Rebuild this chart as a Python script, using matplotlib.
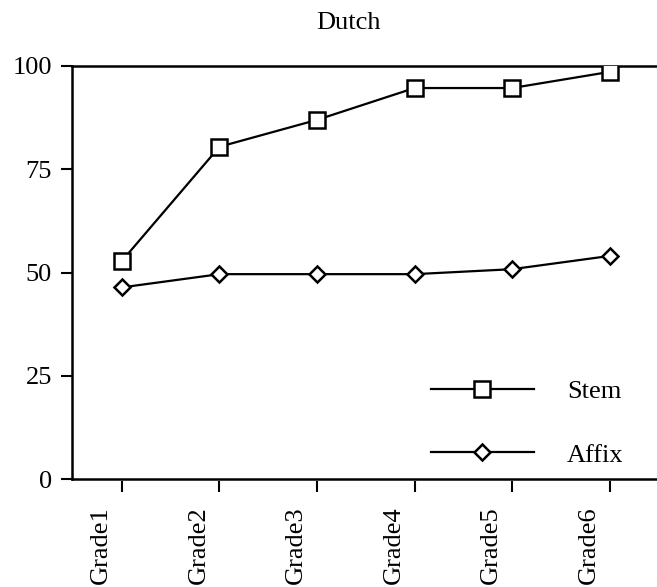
import matplotlib
matplotlib.use('Agg')
import matplotlib.pyplot as plt
import matplotlib.transforms as mtransforms
import numpy as np

grades = ['Grade1', 'Grade2', 'Grade3', 'Grade4', 'Grade5', 'Grade6']
stem = [52.8, 80.4, 86.9, 94.6, 94.6, 98.5]
affix = [46.4, 49.6, 49.6, 49.6, 50.8, 54.0]
yticks = [0, 25, 50, 75, 100]

plt.rcParams['font.family'] = ['Liberation Serif', 'DejaVu Serif']
plt.rcParams['font.size'] = 19

W, H = 657, 587
fig = plt.figure(figsize=(W / 100, H / 100), dpi=100)

# axes box in pixels: left 71.5, right 657, top 65.7, bottom 479.3
ax = fig.add_axes([71.5 / W, 1 - 479.3 / H, (W - 71.5) / W, (479.3 - 65.7) / H])

x = np.arange(len(grades))
ax.plot(x, stem, color='black', lw=1.6, marker='s', ms=11.5,
        mfc='white', mec='black', mew=1.8, label='Stem', zorder=3)
ax.plot(x, affix, color='black', lw=1.6, marker='D', ms=8.5,
        mfc='white', mec='black', mew=1.8, label='Affix', zorder=3)

ax.set_xlim(-0.517, 5.486)
ax.set_ylim(0, 100)

# frame: left spine + lines at 0 and 100, no right spine
for s in ['top', 'right']:
    ax.spines[s].set_visible(False)
ax.spines['left'].set_linewidth(1.8)
ax.spines['bottom'].set_visible(False)
ax.spines['bottom'].set_position(('outward', 1.5))
ax.axhline(0, color='black', lw=1.8, clip_on=False, zorder=2)
ax.axhline(100, color='black', lw=1.8, clip_on=False, zorder=2)

ax.set_yticks(yticks)
ax.set_xticks(x)
ax.set_xticklabels(grades, rotation=90, va='top', ha='center')
ax.tick_params(axis='y', direction='out', length=8, width=1.5, pad=6)
ax.tick_params(axis='x', direction='out', length=8, width=1.5, pad=10)

# shift rotated labels left like the reference
offset = mtransforms.ScaledTranslation(-15 / 72, 0, fig.dpi_scale_trans)
for lab in ax.get_xticklabels():
    lab.set_transform(lab.get_transform() + offset)

fig.text(348 / W, 1 - 23 / H, 'Dutch', ha='center', va='center', fontsize=19)

ax.legend(loc='upper left', bbox_to_anchor=(431 / W, 1 - 380 / H),
          bbox_transform=fig.transFigure, frameon=False,
          handlelength=3.9, handletextpad=1.25, labelspacing=1.5,
          borderpad=0, borderaxespad=0)

fig.savefig('out.png', dpi=100)
